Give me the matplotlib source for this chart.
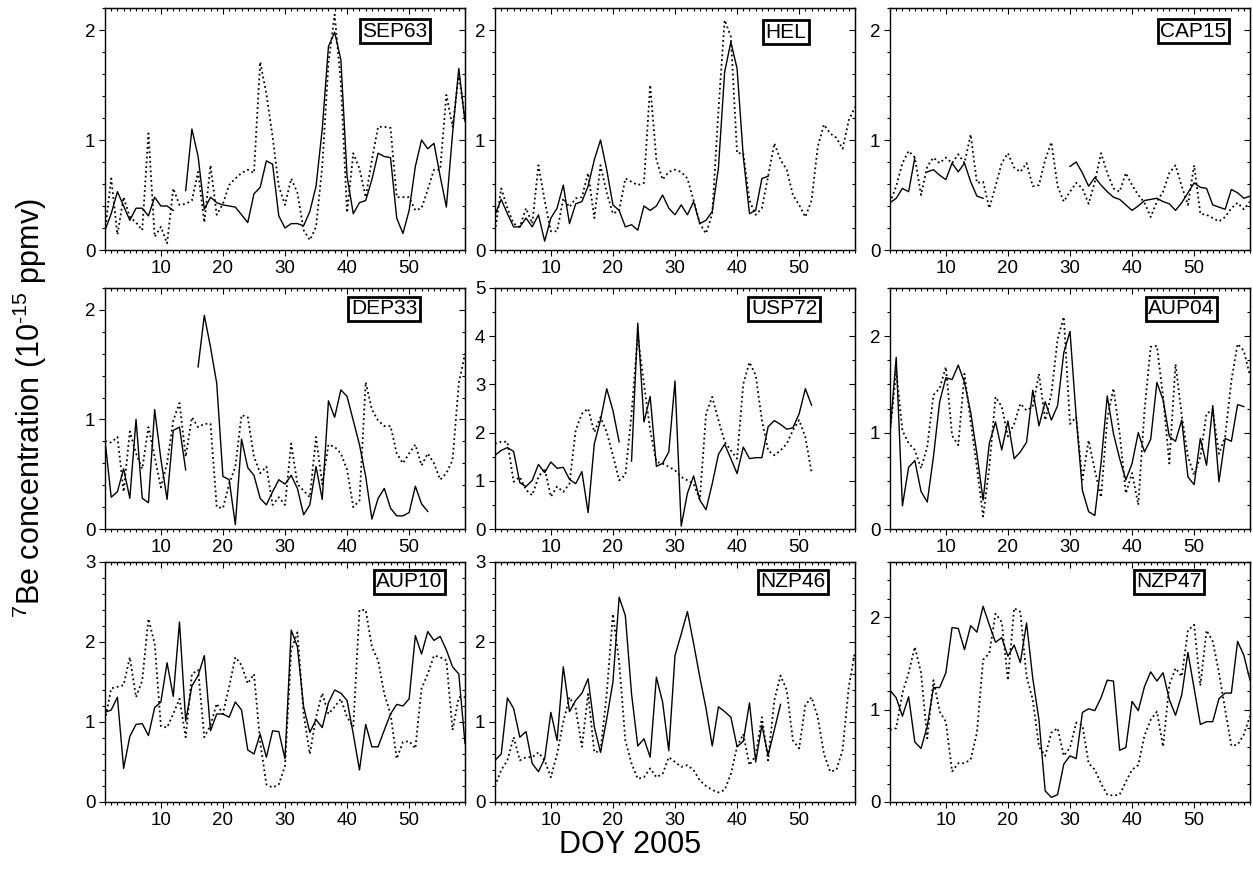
import numpy as np
import matplotlib
matplotlib.use("Agg")
import matplotlib.pyplot as plt
from matplotlib.ticker import MultipleLocator

plt.rcParams["font.family"] = ["Liberation Sans", "DejaVu Sans"]
plt.rcParams["mathtext.default"] = "regular"

nan = np.nan
day = np.arange(1, 60)

stations = ["SEP63", "HEL", "CAP15", "DEP33", "USP72", "AUP04", "AUP10", "NZP46", "NZP47"]

sep63_solid = [0.18, 0.33, 0.53, 0.40, 0.27, 0.38, 0.38, 0.31, 0.48, 0.40,
               0.40, 0.36, nan, 0.54, 1.10, 0.85, 0.37, 0.48, 0.43, 0.41,
               0.40, 0.39, 0.32, 0.25, 0.51, 0.57, 0.81, 0.78, 0.31, 0.20,
               0.24, 0.24, 0.22, 0.35, 0.58, 1.10, 1.85, 1.98, 1.73, 0.67,
               0.33, 0.43, 0.45, 0.64, 0.88, 0.85, 0.84, 0.29, 0.15, 0.36,
               0.76, 1.00, 0.92, 0.97, 0.67, 0.39, 1.06, 1.65, 1.17]
sep63_dotted = [0.17, 0.65, 0.14, 0.48, 0.30, 0.25, 0.18, 1.06, 0.12, 0.21,
                0.06, 0.56, 0.41, 0.42, 0.45, 0.71, 0.25, 0.77, 0.32, 0.42,
                0.59, 0.65, 0.70, 0.73, 0.70, 1.71, 1.42, 1.03, 0.58, 0.41,
                0.65, 0.52, 0.18, 0.09, 0.21, 0.76, 1.70, 2.14, 1.52, 0.34,
                0.88, 0.74, 0.48, 0.82, 1.12, 1.12, 1.11, 0.48, 0.48, 0.48,
                0.36, 0.38, 0.55, 0.73, 0.73, 1.41, 1.12, 1.60, 1.18]

hel_solid = [0.32, 0.46, 0.33, 0.21, 0.21, 0.29, 0.21, 0.32, 0.08, 0.29,
             0.38, 0.59, 0.24, 0.42, 0.44, 0.58, 0.82, 1.00, 0.73, 0.41,
             0.36, 0.21, 0.23, 0.18, 0.40, 0.36, 0.40, 0.50, 0.38, 0.32,
             0.41, 0.32, 0.44, 0.24, 0.27, 0.35, 0.75, 1.62, 1.89, 1.65,
             0.85, 0.33, 0.36, 0.65, 0.67] + [nan] * 14
hel_dotted = [0.17, 0.56, 0.38, 0.24, 0.21, 0.38, 0.24, 0.77, 0.45, 0.17,
              0.17, 0.47, 0.39, 0.47, 0.48, 0.70, 0.29, 0.77, 0.52, 0.33,
              0.36, 0.65, 0.62, 0.59, 0.61, 1.50, 0.82, 0.64, 0.71, 0.73,
              0.71, 0.65, 0.45, 0.24, 0.15, 0.33, 1.27, 2.09, 1.94, 0.88,
              0.88, 0.45, 0.32, 0.38, 0.67, 0.97, 0.82, 0.73, 0.50, 0.41,
              0.30, 0.45, 0.94, 1.14, 1.06, 1.02, 0.92, 1.18, 1.30]

cap15_solid = ([0.43, 0.47, 0.56, 0.53, 0.84, nan, 0.71, 0.73, 0.68, 0.64,
                0.79, 0.71, 0.79, 0.62, 0.49, 0.47] + [nan] * 13 +
               [0.76, 0.80, 0.70, 0.58, 0.66, 0.59, 0.53, 0.48, 0.46, 0.41,
                0.36, 0.40, 0.45, 0.46, 0.47, 0.44, 0.42, 0.36, 0.43, 0.52,
                0.61, 0.57, 0.56, 0.41, 0.39, 0.37, 0.55, 0.52, 0.47, 0.49])
cap15_dotted = [0.43, 0.58, 0.79, 0.90, 0.84, 0.50, 0.76, 0.84, 0.79, 0.84,
                0.79, 0.87, 0.79, 1.05, 0.61, 0.62, 0.38, 0.58, 0.79, 0.88,
                0.75, 0.71, 0.79, 0.58, 0.59, 0.82, 0.98, 0.58, 0.44, 0.53,
                0.61, 0.56, 0.42, 0.62, 0.88, 0.70, 0.56, 0.53, 0.70, 0.59,
                0.50, 0.43, 0.30, 0.44, 0.53, 0.70, 0.77, 0.58, 0.41, 0.77,
                0.33, 0.32, 0.29, 0.26, 0.30, 0.38, 0.43, 0.37, 0.44]

dep33_solid = [0.81, 0.29, 0.34, 0.55, 0.28, 1.00, 0.28, 0.24, 1.09, 0.64,
               0.27, 0.90, 0.93, 0.54, nan, 1.48, 1.95, 1.66, 1.33, 0.48,
               0.45, 0.04, 0.82, 0.56, 0.49, 0.28, 0.22, 0.34, 0.45, 0.41,
               0.49, 0.37, 0.13, 0.22, 0.57, 0.27, 1.17, 1.02, 1.27, 1.21,
               0.99, 0.77, 0.48, 0.09, 0.28, 0.37, 0.19, 0.12, 0.12, 0.15,
               0.39, 0.23, 0.16] + [nan] * 6
dep33_dotted = [0.80, 0.79, 0.84, 0.34, 0.89, 0.69, 0.55, 0.93, 0.66, 0.38,
                0.60, 0.99, 1.15, 0.66, 1.02, 0.93, 0.96, 0.96, 0.20, 0.19,
                0.41, 0.57, 1.04, 1.02, 0.66, 0.51, 0.57, 0.22, 0.29, 0.22,
                0.78, 0.41, 0.35, 0.29, 0.84, 0.41, 0.77, 0.75, 0.69, 0.54,
                0.20, 0.26, 1.34, 1.09, 0.99, 0.94, 0.94, 0.69, 0.60, 0.69,
                0.77, 0.58, 0.69, 0.60, 0.45, 0.51, 0.63, 1.33, 1.60]

usp72_solid = [1.53, 1.63, 1.69, 1.61, 0.96, 0.88, 1.01, 1.34, 1.17, 1.39,
               1.26, 1.28, 1.03, 0.94, 1.19, 0.34, 1.77, 2.26, 2.91, 2.46,
               1.81, nan, 1.41, 4.27, 2.22, 2.75, 1.30, 1.36, 1.60, 3.07,
               0.06, 0.74, 1.10, 0.60, 0.40, 0.94, 1.55, 1.76, 1.46, 1.15,
               1.70, 1.46, 1.48, 1.48, 2.12, 2.25, 2.17, 2.07, 2.10, 2.39,
               2.91, 2.57] + [nan] * 7
usp72_dotted = [1.77, 1.81, 1.81, 0.98, 1.08, 0.81, 0.70, 1.08, 1.26, 0.67,
                0.88, 0.77, 0.94, 2.05, 2.39, 2.50, 2.01, 2.32, 2.01, 1.53,
                1.01, 1.12, 2.39, 4.01, 3.01, 2.05, 1.39, 1.36, 1.29, 1.22,
                1.08, 1.01, 0.94, 0.61, 2.39, 2.74, 2.26, 1.81, 1.63, 1.46,
                3.01, 3.46, 3.19, 2.26, 1.63, 1.53, 1.63, 1.77, 2.05, 2.26,
                1.91, 1.17] + [nan] * 7

aup04_solid = [1.00, 1.78, 0.24, 0.64, 0.71, 0.39, 0.28, 0.75, 1.32, 1.57,
               1.55, 1.70, 1.52, 1.21, 0.78, 0.30, 0.89, 1.11, 0.82, 1.12,
               0.73, 0.80, 0.90, 1.44, 1.07, 1.32, 1.13, 1.28, 1.83, 2.05,
               1.16, 0.40, 0.18, 0.14, 0.68, 1.38, 0.99, 0.73, 0.51, 0.68,
               1.00, 0.80, 0.93, 1.52, 1.34, 0.96, 0.91, 1.13, 0.54, 0.46,
               0.94, 0.66, 1.28, 0.49, 0.94, 0.91, 1.29, 1.27, nan]
aup04_dotted = [1.00, 1.64, 1.02, 0.89, 0.82, 0.63, 0.85, 1.39, 1.46, 1.68,
                0.97, 0.87, 1.61, 1.11, 0.64, 0.13, 0.64, 1.37, 1.27, 0.96,
                1.09, 1.30, 1.23, 1.27, 1.61, 1.13, 1.40, 1.97, 2.20, 1.09,
                1.16, 0.51, 0.92, 0.61, 0.33, 1.14, 1.46, 0.99, 0.37, 0.58,
                0.25, 1.23, 1.89, 1.90, 1.37, 0.68, 1.71, 1.18, 0.75, 0.56,
                0.75, 1.20, 1.23, 0.78, 0.96, 1.54, 1.92, 1.85, 1.59]

aup10_solid = [1.12, 1.15, 1.31, 0.42, 0.82, 0.97, 0.98, 0.83, 1.18, 1.25,
               1.74, 1.32, 2.25, 1.01, 1.45, 1.58, 1.83, 0.89, 1.10, 1.10,
               1.06, 1.25, 1.15, 0.65, 0.60, 0.85, 0.56, 0.89, 0.88, 0.54,
               2.15, 1.94, 1.19, 0.87, 1.03, 0.93, 1.24, 1.40, 1.36, 1.27,
               0.85, 0.40, 0.97, 0.69, 0.69, 0.90, 1.10, 1.22, 1.20, 1.29,
               2.08, 1.85, 2.13, 2.02, 2.07, 1.90, 1.69, 1.60, 0.73]
aup10_dotted = [1.02, 1.42, 1.44, 1.46, 1.81, 1.31, 1.52, 2.29, 1.98, 0.95,
                0.93, 1.10, 1.29, 0.81, 1.60, 1.65, 0.81, 0.96, 1.23, 1.10,
                1.44, 1.81, 1.71, 1.48, 1.60, 0.75, 0.22, 0.18, 0.22, 0.45,
                1.90, 2.12, 1.10, 0.60, 1.06, 1.36, 1.10, 1.19, 1.29, 1.06,
                0.94, 2.40, 2.40, 1.94, 1.77, 1.35, 1.10, 0.54, 0.75, 0.76,
                0.67, 1.42, 1.60, 1.83, 1.81, 1.77, 0.90, 1.31, 1.31]

nzp46_solid = [0.52, 0.60, 1.30, 1.17, 0.81, 0.88, 0.48, 0.38, 0.54, 1.12,
               0.77, 1.69, 1.13, 1.27, 1.36, 1.54, 0.94, 0.62, 1.04, 1.50,
               2.56, 2.33, 1.35, 0.70, 0.79, 0.56, 1.56, 1.25, 0.64, 1.83,
               2.10, 2.38, 1.98, 1.56, 1.17, 0.70, 1.19, 1.13, 1.06, 0.69,
               0.76, 1.24, 0.50, 0.96, 0.58, 0.90, 1.22] + [nan] * 12
nzp46_dotted = [0.20, 0.40, 0.52, 0.81, 0.52, 0.56, 0.56, 0.62, 0.52, 0.31,
                0.60, 1.00, 1.31, 1.17, 0.69, 1.35, 0.62, 0.64, 1.35, 2.35,
                1.75, 0.77, 0.48, 0.29, 0.31, 0.42, 0.31, 0.35, 0.56, 0.50,
                0.44, 0.46, 0.40, 0.27, 0.20, 0.15, 0.12, 0.15, 0.35, 0.69,
                0.85, 0.46, 0.58, 1.06, 0.52, 1.27, 1.58, 1.40, 0.77, 0.67,
                1.21, 1.31, 1.06, 0.60, 0.38, 0.40, 0.65, 1.44, 1.88]

nzp47_solid = [1.21, 1.13, 0.93, 1.14, 0.65, 0.58, 0.82, 1.24, 1.24, 1.40,
               1.89, 1.88, 1.65, 1.91, 1.84, 2.12, 1.92, 1.73, 1.78, 1.58,
               1.70, 1.51, 1.94, 1.34, 0.89, 0.12, 0.05, 0.08, 0.41, 0.50,
               0.47, 0.97, 1.01, 0.99, 1.13, 1.32, 1.31, 0.56, 0.59, 1.09,
               0.99, 1.25, 1.41, 1.31, 1.40, 1.11, 0.94, 1.16, 1.62, 1.23,
               0.84, 0.87, 0.87, 1.12, 1.18, 1.18, 1.74, 1.59, 1.32]
nzp47_dotted = [0.78, 0.80, 1.18, 1.40, 1.68, 1.40, 0.69, 1.32, 0.98, 0.87,
                0.33, 0.42, 0.42, 0.46, 0.75, 1.54, 1.61, 2.04, 1.95, 1.32,
                2.10, 2.06, 1.36, 1.11, 0.60, 0.50, 0.75, 0.80, 0.50, 0.59,
                0.86, 0.83, 0.42, 0.35, 0.20, 0.08, 0.07, 0.08, 0.22, 0.35,
                0.40, 0.72, 0.89, 0.98, 0.60, 1.27, 1.45, 1.36, 1.86, 1.92,
                1.26, 1.86, 1.74, 1.40, 1.00, 0.61, 0.62, 0.73, 0.93]

solid = [sep63_solid, hel_solid, cap15_solid, dep33_solid, usp72_solid,
         aup04_solid, aup10_solid, nzp46_solid, nzp47_solid]
dotted = [sep63_dotted, hel_dotted, cap15_dotted, dep33_dotted, usp72_dotted,
          aup04_dotted, aup10_dotted, nzp46_dotted, nzp47_dotted]

# axis ranges per panel
y_max = [2.2, 2.2, 2.2, 2.2, 5, 2.5, 3, 3, 2.6]
y_minor = [0.2, 0.2, 0.2, 0.2, 0.5, 0.25, 0.2, 0.2, 0.2]
# where the station box sits (axes fraction)
label_pos = [(0.805, 0.903), (0.808, 0.899), (0.842, 0.903),
             (0.775, 0.913), (0.803, 0.913), (0.81, 0.913),
             (0.845, 0.918), (0.828, 0.918), (0.776, 0.918)]

W, H = 1253, 874
col_left = [105, 495, 890]
row_top = [8, 288, 562]
row_bottom = [250, 529, 802]
panel_w = 360


def set_ticks(axis, major, minor):
    axis.set_major_locator(MultipleLocator(major))
    axis.set_minor_locator(MultipleLocator(minor))


fig = plt.figure(figsize=(W / 100, H / 100), dpi=100)

for i, name in enumerate(stations):
    r, c = divmod(i, 3)
    left = col_left[c] / W
    bottom = 1 - row_bottom[r] / H
    height = (row_bottom[r] - row_top[r]) / H
    ax = fig.add_axes([left, bottom, panel_w / W, height])

    ax.plot(day, solid[i], color="black", lw=1.0)
    ax.plot(day, dotted[i], color="black", lw=1.3, ls=":")

    ax.set_xlim(1, 59)
    ax.set_ylim(0, y_max[i])
    set_ticks(ax.xaxis, 10, 1)
    set_ticks(ax.yaxis, 1, y_minor[i])
    # left / bottom ticks point outwards
    ax.tick_params(which="both", direction="out", labelsize=13.5, width=0.8)
    ax.tick_params(which="major", length=4.5, pad=2.5)
    ax.tick_params(which="minor", length=2.5)
    for s in ax.spines.values():
        s.set_linewidth(1.0)

    # top / right ticks point inwards, no labels
    top = ax.secondary_xaxis("top")
    set_ticks(top.xaxis, 10, 1)
    top.tick_params(which="both", direction="in", labeltop=False, width=0.8)
    top.tick_params(which="major", length=4.5)
    top.tick_params(which="minor", length=2.5)
    right = ax.secondary_yaxis("right")
    set_ticks(right.yaxis, 1, y_minor[i])
    right.tick_params(which="both", direction="in", labelright=False, width=0.8)
    right.tick_params(which="major", length=4.5)
    right.tick_params(which="minor", length=2.5)

    lx, ly = label_pos[i]
    ax.text(lx, ly, name, transform=ax.transAxes, ha="center", va="center",
            fontsize=15,
            bbox=dict(boxstyle="square,pad=0.12", fc="white", ec="black", lw=2))

fig.text(630 / W, 1 - 845 / H, "DOY 2005", ha="center", va="center", fontsize=22)
fig.text(30 / W, 1 - 408 / H, "$^{7}$Be concentration (10$^{\u201015}$ ppmv)",
         ha="center", va="center", rotation=90, fontsize=22)

fig.savefig("out.png", dpi=100)
